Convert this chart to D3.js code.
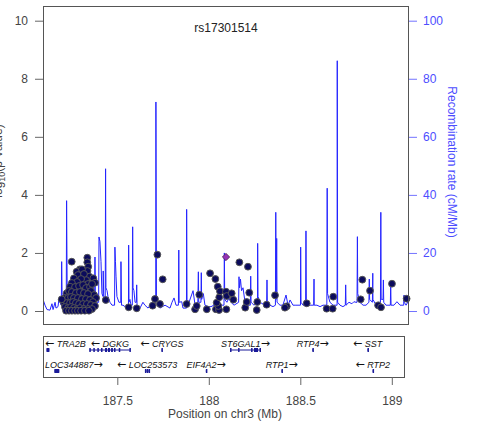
<!DOCTYPE html>
<html><head><meta charset="utf-8">
<script src="https://cdn.jsdelivr.net/npm/d3@7"></script>
<style>body{margin:0;background:#fff;} svg{display:block;font-family:"Liberation Sans",Arial,sans-serif;}</style>
</head><body><svg id="c" width="478" height="430"></svg>
<script>
const title = "rs17301514";
const xLabel = "Position on chr3 (Mb)";
const rightLabel = "Recombination rate (cM/Mb)";
const xTicks = [187.5, 188, 188.5, 189];
const leftTicks = [0, 2, 4, 6, 8, 10];
const rightTicks = [0, 20, 40, 60, 80, 100];
const refSnp = [188.094, 1.860];
const snps = [
[187.336,1.836],[187.336,1.678],[187.341,1.526],[187.337,1.378],[187.347,1.182],[187.329,1.068],[187.340,0.930],
[187.296,1.436],[187.278,1.354],[187.307,1.436],[187.285,1.240],[187.263,1.126],[187.318,1.275],[187.302,1.102],
[187.280,0.999],[187.252,0.965],[187.242,0.837],[187.269,0.827],[187.291,0.861],[187.313,0.896],[187.329,0.792],
[187.351,0.827],[187.369,1.126],[187.378,0.975],[187.362,0.930],[187.356,0.689],[187.373,0.551],[187.384,0.448],
[187.223,0.610],[187.236,0.689],[187.252,0.654],[187.274,0.620],[187.296,0.654],[187.318,0.620],[187.340,0.586],
[187.214,0.448],[187.231,0.448],[187.247,0.482],[187.263,0.448],[187.285,0.448],[187.307,0.413],[187.329,0.413],
[187.351,0.379],[187.367,0.310],[187.209,0.276],[187.225,0.276],[187.242,0.276],[187.258,0.310],[187.274,0.276],
[187.291,0.241],[187.313,0.241],[187.334,0.241],[187.356,0.207],[187.378,0.172],[187.214,0.138],[187.231,0.103],
[187.247,0.138],[187.263,0.103],[187.280,0.069],[187.296,0.103],[187.318,0.069],[187.340,0.069],[187.362,0.069],
[187.220,0.010],[187.236,0.010],[187.252,0.010],[187.269,0.010],[187.285,0.010],[187.302,0.010],[187.323,0.010],[187.345,0.010],
[187.196,0.403],[187.251,1.698],[187.437,0.379],[187.562,0.127],[187.606,0.093],[187.706,0.413],[187.693,0.183],
[187.733,0.241],[187.719,1.939],[187.748,1.092],[187.879,0.241],[187.925,0.059],[187.934,0.172],[187.948,0.561],
[187.989,0.059],[188.007,1.299],[188.036,1.102],[188.039,0.059],[188.049,0.837],[188.056,0.034],[188.052,0.172],
[188.043,0.286],[188.057,0.472],[188.061,0.679],[188.094,0.665],[188.098,0.517],[188.096,0.059],[188.125,0.610],
[188.134,0.389],[188.167,1.678],[188.199,0.114],[188.207,0.310],[188.214,1.526],[188.221,0.630],[188.262,0.034],
[188.265,0.310],[188.316,0.217],[188.362,0.541],[188.426,0.162],[188.416,0.114],[188.535,0.265],[188.644,0.079],
[188.677,0.079],[188.680,0.493],[188.830,0.403],[188.839,1.078],[188.881,0.699],[188.925,0.196],[188.941,0.127],
[189.001,0.940],[189.081,0.424]
];
const recomb = [
[187.094,4],[187.105,2],[187.116,0.5],[187.132,0.3],[187.143,2.5],[187.149,0.5],[187.160,3],[187.165,1],[187.176,1.5],[187.181,4],[187.187,3],[187.194,2],[187.196,17],[187.199,3],[187.209,2],[187.221,2],[187.223,38],[187.226,8],[187.231,6],[187.236,5.5],[187.242,7],[187.247,4],[187.252,3],[187.263,2],[187.274,2],[187.285,3],[187.296,2],[187.307,4],[187.318,2],[187.329,3],[187.340,2],[187.351,3],[187.362,2],[187.376,2],[187.378,18.6],[187.380,4],[187.389,3],[187.398,3],[187.400,25.5],[187.405,24],[187.411,17],[187.416,6],[187.422,5],[187.423,13.8],[187.426,5],[187.434,4],[187.436,49],[187.438,8],[187.444,7],[187.449,5],[187.460,3],[187.471,2],[187.485,2],[187.487,22],[187.490,17],[187.493,12],[187.498,5],[187.509,3],[187.519,3],[187.520,17],[187.523,2],[187.531,2],[187.542,1.5],[187.553,1],[187.561,1],[187.562,22.7],[187.564,3],[187.569,4],[187.575,2],[187.582,2],[187.584,29],[187.586,8],[187.591,7],[187.597,3],[187.604,3],[187.606,9],[187.608,2],[187.624,1],[187.640,3],[187.651,2],[187.668,1],[187.679,2],[187.690,3],[187.710,2],[187.711,72],[187.714,5],[187.722,3],[187.733,1],[187.761,2],[187.788,1],[187.799,3],[187.810,4.5],[187.821,2],[187.834,2],[187.836,21],[187.838,3],[187.852,3.2],[187.859,1],[187.878,1],[187.879,35],[187.881,4],[187.892,3],[187.914,7],[187.925,2],[187.940,3],[187.943,13.5],[187.945,3],[187.957,3],[187.959,13.2],[187.961,4],[187.970,6],[187.979,2],[187.996,1.5],[188.012,1.5],[188.028,2],[188.045,1.5],[188.061,2],[188.083,2],[188.085,20],[188.087,4],[188.099,3],[188.110,4.5],[188.121,3],[188.138,2],[188.163,3],[188.165,11.8],[188.168,8],[188.173,11],[188.179,7],[188.187,8],[188.198,3],[188.214,2],[188.227,2],[188.229,12],[188.231,3],[188.247,2],[188.266,3],[188.267,23.3],[188.269,5],[188.280,3],[188.307,2],[188.316,2],[188.318,10.7],[188.320,2],[188.334,2],[188.351,1.5],[188.364,2],[188.366,34],[188.368,4],[188.371,25],[188.373,3],[188.389,2],[188.405,2],[188.422,5.5],[188.433,2],[188.444,3.8],[188.460,2],[188.476,2],[188.501,2],[188.502,22],[188.504,3],[188.515,2],[188.529,2],[188.531,27.6],[188.533,4],[188.548,2],[188.558,2],[188.573,2],[188.575,11],[188.576,2],[188.591,2],[188.608,1.5],[188.624,2],[188.645,2],[188.647,42.3],[188.649,6],[188.662,3],[188.679,2],[188.701,2],[188.702,86.2],[188.704,3],[188.717,2],[188.733,1.5],[188.746,2],[188.748,9],[188.750,2],[188.766,3],[188.782,2.5],[188.793,3.2],[188.804,3],[188.810,3],[188.812,25.6],[188.814,6],[188.826,3],[188.843,2],[188.859,2],[188.875,3],[188.877,11],[188.879,4],[188.894,3],[188.896,13],[188.897,4],[188.914,2],[188.925,3],[188.938,3],[188.940,34],[188.942,4],[188.952,4],[188.954,10.7],[188.956,3],[188.968,2],[188.979,2],[188.992,2],[188.994,9.3],[188.996,2],[189.012,2],[189.028,3.2],[189.045,2],[189.065,2],[189.067,5.5],[189.068,3],[189.078,2],[189.094,3.8]
];
const genes = [
 {name:"TRA2B", start:187.113, end:187.129, strand:"-", row:0, exons:[[187.113,187.129]]},
 {name:"DGKG", start:187.347, end:187.573, strand:"-", row:0, exons:[[187.347,187.355],[187.369,187.374],[187.391,187.396],[187.411,187.416],[187.433,187.444],[187.449,187.460],[187.466,187.476],[187.482,187.487],[187.508,187.513],[187.566,187.573]]},
 {name:"CRYGS", start:187.741, end:187.746, strand:"-", row:0, exons:[[187.741,187.746]]},
 {name:"ST6GAL1", start:188.116, end:188.285, strand:"+", row:0, exons:[[188.116,188.121],[188.160,188.165],[188.231,188.236],[188.247,188.269],[188.277,188.285]]},
 {name:"RTP4", start:188.564, end:188.572, strand:"+", row:0, exons:[[188.566,188.570]]},
 {name:"SST", start:188.866, end:188.871, strand:"-", row:0, exons:[[188.867,188.870]]},
 {name:"LOC344887", start:187.156, end:187.183, strand:"+", row:1, exons:[[187.156,187.183]]},
 {name:"LOC253573", start:187.651, end:187.675, strand:"-", row:1, exons:[[187.651,187.654],[187.661,187.664],[187.671,187.675]]},
 {name:"EIF4A2", start:187.983, end:187.988, strand:"+", row:1, exons:[[187.984,187.987]]},
 {name:"RTP1", start:188.396, end:188.401, strand:"+", row:1, exons:[[188.397,188.400]]},
 {name:"RTP2", start:188.894, end:188.899, strand:"-", row:1, exons:[[188.895,188.898]]}
];

const svg = d3.select("#c");
const x = d3.scaleLinear().domain([187.094, 189.094]).range([43, 409]);
const y = d3.scaleLinear().domain([0, 10]).range([311, 20.7]);
const yR = d3.scaleLinear().domain([0, 100]).range([311, 20.7]);
const frame = {l:43, r:409, t:6, b:324};

svg.append("clipPath").attr("id","clip").append("rect")
  .attr("x", frame.l).attr("y", frame.t).attr("width", frame.r-frame.l).attr("height", frame.b-frame.t);

// recombination line
svg.append("path").datum(recomb)
  .attr("clip-path","url(#clip)")
  .attr("fill","none").attr("stroke","#2323ff").attr("stroke-width",1)
  .attr("d", d3.line().x(d=>x(d[0])).y(d=>yR(d[1])));

// snps
svg.append("g").selectAll("circle").data(snps).join("circle")
  .attr("cx", d=>x(d[0])).attr("cy", d=>y(d[1])).attr("r", 3.4)
  .attr("fill","#0b0b5c").attr("stroke","#555").attr("stroke-width",1);

// reference snp diamond
svg.append("path")
  .attr("d", d3.symbol().type(d3.symbolDiamond2).size(34)())
  .attr("transform", `translate(${x(refSnp[0])},${y(refSnp[1])})`)
  .attr("fill","#9632b8").attr("stroke","#4a2a4a").attr("stroke-width",0.8);

// frame
svg.append("rect").attr("x", frame.l+0.5).attr("y", frame.t+0.5)
  .attr("width", frame.r-frame.l-1).attr("height", frame.b-frame.t)
  .attr("fill","none").attr("stroke","#555").attr("stroke-width",1);

// title
svg.append("text").attr("x", (frame.l+frame.r)/2).attr("y", 32).attr("text-anchor","middle")
  .attr("font-size", 12).attr("fill","#222").text(title);

// left axis
const gl = svg.append("g").attr("transform", `translate(${frame.l},0)`)
  .call(d3.axisLeft(y).tickValues(leftTicks).tickSize(8).tickPadding(7).tickFormat(d=>String(d)));
gl.select(".domain").remove();
gl.selectAll("line").attr("stroke","#666");
gl.selectAll("text").attr("font-size",12).attr("fill","#444").attr("font-family","Liberation Sans, Arial, sans-serif");

// right axis
const gr = svg.append("g").attr("transform", `translate(${frame.r},0)`)
  .call(d3.axisRight(yR).tickValues(rightTicks).tickSize(8).tickPadding(6).tickFormat(d=>String(d)));
gr.select(".domain").remove();
gr.selectAll("line").attr("stroke","#7373ff");
gr.selectAll("text").attr("font-size",12).attr("fill","#4d4dff").attr("font-family","Liberation Sans, Arial, sans-serif");

// axis labels
const yl = svg.append("text").attr("transform","translate(2,163) rotate(-90)").attr("text-anchor","middle")
  .attr("font-size",12).attr("fill","#444");
yl.append("tspan").text("-log");
yl.append("tspan").attr("font-size",9).attr("dy",3).text("10");
yl.append("tspan").attr("dy",-3).text("(p-value)");

svg.append("text").attr("transform","translate(448,162) rotate(90)").attr("text-anchor","middle")
  .attr("font-size",12).attr("fill","#4d4dff").text(rightLabel);

// gene panel
const gp = {l:43, r:405, t:336, b:377};
svg.append("rect").attr("x", gp.l+0.5).attr("y", gp.t+0.5).attr("width", gp.r-gp.l-1).attr("height", gp.b-gp.t)
  .attr("fill","none").attr("stroke","#555").attr("stroke-width",1);
const rowY = [350, 371];
const labY = [346.5, 367.5];
const gg = svg.append("g");
genes.forEach(g => {
  const yy = rowY[g.row];
  gg.append("line").attr("x1", x(g.start)).attr("x2", x(g.end)).attr("y1", yy).attr("y2", yy)
    .attr("stroke","#1a1a99").attr("stroke-width",1);
  g.exons.forEach(e => {
    const w = Math.max(1.5, x(e[1]) - x(e[0]));
    gg.append("rect").attr("x", x(e[0])).attr("y", yy-2).attr("width", w).attr("height", 4)
      .attr("fill","#1a1a99");
  });
  const cx = x((g.start+g.end)/2);
  const t = gg.append("text").attr("x", cx).attr("y", labY[g.row]).attr("text-anchor","middle")
    .attr("font-size",9).attr("font-style","italic").attr("fill","#111");
  const arrow = () => t.append("tspan").attr("font-family","DejaVu Sans").attr("font-style","normal")
    .attr("font-size",11).attr("dy",0).text("\u2190");
  if (g.strand === "-") {
    t.append("tspan").attr("font-family","DejaVu Sans").attr("font-style","normal").attr("font-size",11).text("\u2190");
    t.append("tspan").text(" " + g.name);
  } else {
    t.append("tspan").text(g.name);
    t.append("tspan").attr("font-family","DejaVu Sans").attr("font-style","normal").attr("font-size",11).text("\u2192");
  }
  const w = t.node().getComputedTextLength();
  if (cx - w/2 < gp.l + 2) t.attr("x", gp.l + 2 + w/2);
  if (cx + w/2 > gp.r - 2) t.attr("x", gp.r - 2 - w/2);
});

// x axis
const gx = svg.append("g").attr("transform", `translate(0,${gp.b})`)
  .call(d3.axisBottom(x).tickValues(xTicks).tickSize(8).tickPadding(11).tickFormat(d=>String(d)));
gx.select(".domain").remove();
gx.selectAll("line").attr("stroke","#666");
gx.selectAll("text").attr("font-size",12).attr("fill","#444").attr("font-family","Liberation Sans, Arial, sans-serif");

svg.append("text").attr("x", 225).attr("y", 418).attr("text-anchor","middle")
  .attr("font-size",12).attr("fill","#444").text(xLabel);
</script></body></html>
